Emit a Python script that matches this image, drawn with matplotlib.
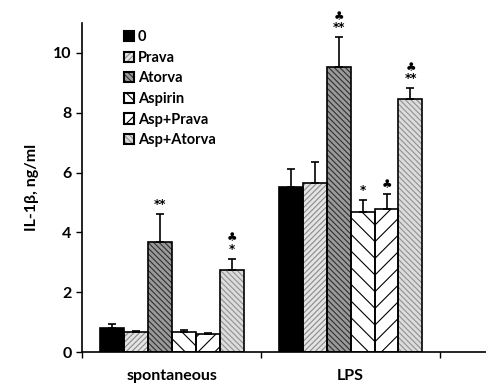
import numpy as np
import matplotlib.pyplot as plt
from matplotlib.patches import Patch
from matplotlib.legend_handler import HandlerTuple

plt.rcParams['font.family'] = ['Lato', 'DejaVu Sans']
plt.rcParams['font.weight'] = 'bold'
plt.rcParams['hatch.linewidth'] = 0.8

groups = ['spontaneous', 'LPS']
treatments = ['0', 'Prava', 'Atorva', 'Aspirin', 'Asp+Prava', 'Asp+Atorva']

# IL-1b (ng/ml) per treatment, [spontaneous, LPS]
means = {
    '0':          [0.82, 5.53],
    'Prava':      [0.67, 5.67],
    'Atorva':     [3.67, 9.53],
    'Aspirin':    [0.68, 4.70],
    'Asp+Prava':  [0.60, 4.80],
    'Asp+Atorva': [2.73, 8.47],
}
errors = {
    '0':          [0.12, 0.60],
    'Prava':      [0.05, 0.67],
    'Atorva':     [0.95, 1.00],
    'Aspirin':    [0.05, 0.40],
    'Asp+Prava':  [0.05, 0.50],
    'Asp+Atorva': [0.40, 0.37],
}
marks = {
    '0':          ['', ''],
    'Prava':      ['', ''],
    'Atorva':     ['**', '\u2663\n**'],
    'Aspirin':    ['', '*'],
    'Asp+Prava':  ['', '\u2663'],
    'Asp+Atorva': ['\u2663\n*', '\u2663\n**'],
}

# face, hatch colour, hatch pattern
styles = {
    '0':          ('black', 'black', None),
    'Prava':      ('#e4e4e4', '#8a8a8a', '//////'),
    'Atorva':     ('#9a9a9a', '#303030', '\\\\\\\\\\\\'),
    'Aspirin':    ('white', 'black', '\\\\'),
    'Asp+Prava':  ('white', 'black', '//'),
    'Asp+Atorva': ('#dcdcdc', '#909090', '\\\\\\\\\\\\'),
}

fig = plt.figure(figsize=(4.86, 3.9), dpi=100)
ax = fig.add_axes([0.169, 0.097, 0.831, 0.844])

x = np.arange(len(groups))
w = 0.134
handles = []
for i, t in enumerate(treatments):
    pos = x + (i - 2.5) * w
    face, hcol, hatch = styles[t]
    ax.bar(pos, means[t], w, color=face, edgecolor=hcol, hatch=hatch,
           linewidth=0, zorder=2)
    ax.bar(pos, means[t], w, fill=False, edgecolor='black', linewidth=1.2, zorder=3)
    ax.errorbar(pos, means[t], yerr=[np.zeros(2), errors[t]], fmt='none',
                ecolor='black', elinewidth=1.2, capsize=3, capthick=1.2, zorder=4)
    for p, m, e, s in zip(pos, means[t], errors[t], marks[t]):
        if s:
            ax.text(p, m + e + 0.1, s, ha='center', va='bottom', fontsize=8.5,
                    linespacing=0.8, family=['DejaVu Sans'])
    hp = Patch(facecolor=face, edgecolor=hcol, hatch=hatch, linewidth=0)
    op = Patch(fill=False, edgecolor='black', linewidth=1.5)
    handles.append((hp, op))

ax.legend(handles, treatments, handler_map={tuple: HandlerTuple(ndivide=1, pad=0)},
          loc='upper left', bbox_to_anchor=(0.085, 1.0), frameon=False,
          fontsize=10.5, handlelength=0.7, handleheight=0.7, handletextpad=0.25,
          labelspacing=0.45, borderpad=0)

ax.set_xlim(-0.5, 1.757)
ax.set_ylim(0, 11)
ax.set_yticks([0, 2, 4, 6, 8, 10])
ax.set_xticks(x)
ax.set_xticklabels(groups, fontsize=11.5, fontweight='bold')
ax.set_xticks([-0.5, 0.5, 1.5], minor=True)
ax.tick_params(axis='x', which='major', length=0, pad=12)
ax.tick_params(axis='x', which='minor', length=4, direction='out', width=1)
ax.tick_params(axis='y', length=4, width=1, labelsize=11.5, direction='out')
for lab in ax.get_yticklabels():
    lab.set_fontweight('bold')
ax.set_ylabel('IL-1\u03b2, ng/ml', fontsize=11.5, fontweight='bold', labelpad=10)
ax.spines['top'].set_visible(False)
ax.spines['right'].set_visible(False)
ax.spines['left'].set_linewidth(1.2)
ax.spines['bottom'].set_linewidth(1.2)

fig.savefig('out.png', dpi=100)
